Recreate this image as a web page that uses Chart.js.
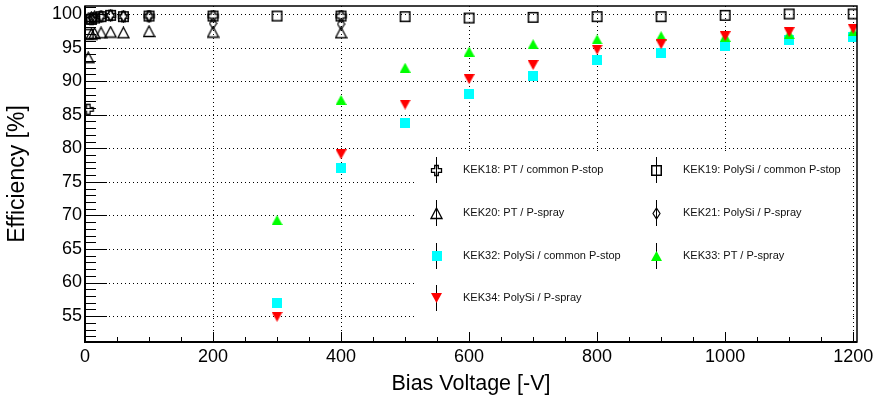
<!DOCTYPE html>
<html>
<head>
<meta charset="utf-8">
<script src="https://cdn.jsdelivr.net/npm/chart.js@4.4.1/dist/chart.umd.min.js"></script>
<style>
    html, body { margin: 0; padding: 0; background: #fff; }
    #wrap { position: relative; width: 879px; height: 405px; }
    .lg { position: absolute; font: 11px "Liberation Sans", Arial, sans-serif; color: #111; white-space: nowrap; line-height: 12px; }
</style>
</head>
<body>
<div id="wrap">
    <canvas id="chart" width="879" height="405"></canvas>
</div>
<script>
// values
const kek18Volt = [5, 10, 15, 25, 40, 60, 100, 200, 400];
const kek18Eff  = [85.8, 99.2, 99.4, 99.6, 99.8, 99.6, 99.7, 99.7, 99.7];

const kek19Volt = [5, 10, 15, 25, 40, 60, 100, 200, 300, 400, 500, 600, 700, 800, 900, 1000, 1100, 1200];
const kek19Eff  = [97.0, 99.2, 99.4, 99.6, 99.8, 99.6, 99.7, 99.7, 99.7, 99.7, 99.6, 99.4, 99.5, 99.6, 99.6, 99.8, 100.0, 100.0];

const kek20Volt = [5, 10, 15, 25, 40, 60, 100, 200, 400];
const kek20Eff  = [93.5, 97.0, 97.1, 97.2, 97.3, 97.2, 97.4, 97.3, 97.2];

const kek21Volt = [5, 10, 15, 25, 40, 60, 100, 200, 400];
const kek21Eff  = [99.3, 99.5, 99.6, 99.7, 99.8, 99.7, 99.7, 98.6, 98.5];

const kek32Volt = [300, 400, 500, 600, 700, 800, 900, 1000, 1100, 1200];
const kek32Eff  = [56.9, 77.0, 83.8, 88.1, 90.7, 93.2, 94.2, 95.3, 96.1, 96.5];

const kek33Volt = [300, 400, 500, 600, 700, 800, 900, 1000, 1100, 1200];
const kek33Eff  = [69.3, 87.2, 92.0, 94.4, 95.5, 96.2, 96.7, 96.6, 97.0, 97.4];

const kek34Volt = [300, 400, 500, 600, 700, 800, 900, 1000, 1100, 1200];
const kek34Eff  = [54.9, 79.1, 86.5, 90.3, 92.4, 94.7, 95.5, 96.7, 97.3, 97.8];

const xTicks = [0, 200, 400, 600, 800, 1000, 1200];
const xMinor = [50, 100, 150, 250, 300, 350, 450, 500, 550, 650, 700, 750, 850, 900, 950, 1050, 1100, 1150];
const yTicks = [55, 60, 65, 70, 75, 80, 85, 90, 95, 100];

const legendRows = [
    ['KEK18: PT / common P-stop', 'KEK19: PolySi / common P-stop'],
    ['KEK20: PT / P-spray', 'KEK21: PolySi / P-spray'],
    ['KEK32: PolySi / common P-stop', 'KEK33: PT / P-spray'],
    ['KEK34: PolySi / P-spray', null]
];

function pts(xs, ys) {
    return xs.map((x, i) => ({ x: x, y: ys[i] }));
}

// ROOT-like markers as small canvases
function makeMarker(w, h, draw) {
    const c = document.createElement('canvas');
    c.width = w; c.height = h;
    const g = c.getContext('2d');
    draw(g, w, h);
    return c;
}

const mOpenCross = makeMarker(13, 13, (g) => {
    const a = 5, t = 1.8, cx = 6.5, cy = 6.5;
    const p = [[-t,-a],[t,-a],[t,-t],[a,-t],[a,t],[t,t],[t,a],[-t,a],[-t,t],[-a,t],[-a,-t],[-t,-t]];
    g.beginPath();
    p.forEach((q, i) => i ? g.lineTo(cx + q[0], cy + q[1]) : g.moveTo(cx + q[0], cy + q[1]));
    g.closePath();
    g.lineWidth = 1.3; g.strokeStyle = '#000'; g.stroke();
});
const mOpenSquare = makeMarker(13, 13, (g) => {
    g.lineWidth = 1.5; g.strokeStyle = '#000';
    g.strokeRect(1.75, 1.75, 9.5, 9.5);
});
const mOpenTri = makeMarker(13, 13, (g) => {
    g.beginPath();
    g.moveTo(6.5, 1); g.lineTo(12, 11.5); g.lineTo(1, 11.5); g.closePath();
    g.lineWidth = 1.3; g.strokeStyle = '#000'; g.stroke();
});
const mOpenDiamond = makeMarker(9, 13, (g) => {
    g.beginPath();
    g.moveTo(4.5, 1); g.lineTo(8, 6.5); g.lineTo(4.5, 12); g.lineTo(1, 6.5); g.closePath();
    g.lineWidth = 1.2; g.strokeStyle = '#000'; g.stroke();
});
const mCyanSquare = makeMarker(10, 10, (g) => {
    g.fillStyle = '#00ffff'; g.fillRect(0, 0, 10, 10);
});
const mGreenTri = makeMarker(11, 10, (g) => {
    g.beginPath(); g.moveTo(5.5, 0); g.lineTo(11, 10); g.lineTo(0, 10); g.closePath();
    g.fillStyle = '#00ff00'; g.fill();
});
const mRedTriDown = makeMarker(11, 10, (g) => {
    g.beginPath(); g.moveTo(0, 0); g.lineTo(11, 0); g.lineTo(5.5, 10); g.closePath();
    g.fillStyle = '#ff0000'; g.fill();
});

const legendMarks = [
    [mOpenCross, mOpenSquare],
    [mOpenTri, mOpenDiamond],
    [mCyanSquare, mGreenTri],
    [mRedTriDown, null]
];

const legendBox = { x: 415, y: 151, w: 436, h: 180 };
const rowY = [170, 213, 256, 298];
const colMarkX = [436, 656];
const colTextX = [463, 683];

const rootFrame = {
    id: 'rootFrame',
    beforeDatasetsDraw(chart) {
        const { ctx, chartArea: a, scales: { x, y } } = chart;
        ctx.save();
        ctx.strokeStyle = '#000';
        ctx.lineWidth = 1;
        ctx.setLineDash([1, 3]);
        xTicks.forEach(v => {
            if (v === 0) return;
            const px = Math.round(x.getPixelForValue(v)) + 0.5;
            ctx.beginPath(); ctx.moveTo(px, a.top); ctx.lineTo(px, a.bottom); ctx.stroke();
        });
        yTicks.forEach(v => {
            const py = Math.round(y.getPixelForValue(v)) + 0.5;
            ctx.beginPath(); ctx.moveTo(a.left, py); ctx.lineTo(a.right, py); ctx.stroke();
        });
        ctx.restore();
    },
    afterDatasetsDraw(chart) {
        const { ctx, chartArea: a, scales: { x, y } } = chart;
        ctx.save();
        ctx.strokeStyle = '#000';
        ctx.setLineDash([]);

        // ticks inside the frame
        ctx.lineWidth = 1;
        for (let v = 52; v <= 101; v++) {
            const py = Math.round(y.getPixelForValue(v)) + 0.5;
            const len = (v % 5 === 0) ? 22 : 11;
            ctx.beginPath(); ctx.moveTo(a.left, py); ctx.lineTo(a.left + len, py); ctx.stroke();
        }
        xTicks.forEach(v => {
            const px = Math.round(x.getPixelForValue(v)) + 0.5;
            ctx.beginPath(); ctx.moveTo(px, a.bottom); ctx.lineTo(px, a.bottom - 10); ctx.stroke();
        });
        xMinor.forEach(v => {
            const px = Math.round(x.getPixelForValue(v)) + 0.5;
            ctx.beginPath(); ctx.moveTo(px, a.bottom); ctx.lineTo(px, a.bottom - 5); ctx.stroke();
        });

        // legend box
        ctx.fillStyle = '#fff';
        ctx.fillRect(legendBox.x, legendBox.y, legendBox.w, legendBox.h);
        ctx.lineWidth = 1;
        legendMarks.forEach((row, r) => {
            row.forEach((m, c) => {
                if (!m) return;
                const mx = colMarkX[c] + 0.5, my = rowY[r];
                ctx.beginPath(); ctx.moveTo(mx, my - 13); ctx.lineTo(mx, my + 13); ctx.stroke();
                ctx.drawImage(m, Math.round(mx - m.width / 2), Math.round(my - m.height / 2));
            });
        });

        // frame
        ctx.lineWidth = 1.5;
        ctx.strokeRect(a.left, a.top, a.right - a.left, a.bottom - a.top);
        ctx.lineWidth = 2;
        ctx.beginPath();
        ctx.moveTo(a.left, a.top); ctx.lineTo(a.left, a.bottom); ctx.lineTo(a.right, a.bottom);
        ctx.stroke();
        ctx.restore();
    }
};

const tickFont = { family: '"Liberation Sans", Arial, sans-serif', size: 18 };
const xTitleFont = { family: '"Liberation Sans", Arial, sans-serif', size: 21.5 };
const yTitleFont = { family: '"Liberation Sans", Arial, sans-serif', size: 23 };

function ds(label, data, marker) {
    return {
        label: label,
        data: data,
        pointStyle: marker,
        pointRadius: 5,
        pointHoverRadius: 5,
        showLine: false
    };
}

new Chart(document.getElementById('chart'), {
    type: 'scatter',
    data: {
        datasets: [
            ds('KEK34', pts(kek34Volt, kek34Eff), mRedTriDown),
            ds('KEK33', pts(kek33Volt, kek33Eff), mGreenTri),
            ds('KEK32', pts(kek32Volt, kek32Eff), mCyanSquare),
            ds('KEK18', pts(kek18Volt, kek18Eff), mOpenCross),
            ds('KEK21', pts(kek21Volt, kek21Eff), mOpenDiamond),
            ds('KEK20', pts(kek20Volt, kek20Eff), mOpenTri),
            ds('KEK19', pts(kek19Volt, kek19Eff), mOpenSquare)
        ]
    },
    options: {
        responsive: false,
        animation: false,
        layout: { padding: { top: 5, right: 22, left: 0, bottom: 0 } },
        plugins: {
            legend: { display: false },
            tooltip: { enabled: false }
        },
        scales: {
            x: {
                type: 'linear',
                min: 0,
                max: 1206,
                afterBuildTicks: s => { s.ticks = xTicks.map(v => ({ value: v })); },
                afterFit: s => { s.height = 63; s.paddingLeft = 0; s.paddingRight = 0; },
                grid: { display: false, drawTicks: false },
                border: { display: false },
                ticks: { font: tickFont, color: '#000', padding: 4, maxRotation: 0, autoSkip: false, callback: v => String(v) },
                title: { display: true, text: 'Bias Voltage [-V]', font: xTitleFont, color: '#000', padding: { top: 0, bottom: 8 } }
            },
            y: {
                type: 'linear',
                min: 51.14,
                max: 101.19,
                afterBuildTicks: s => { s.ticks = yTicks.map(v => ({ value: v })); },
                afterFit: s => { s.width = 85; s.paddingTop = 0; s.paddingBottom = 0; },
                grid: { display: false, drawTicks: false },
                border: { display: false },
                ticks: { font: tickFont, color: '#000', padding: 3, autoSkip: false, callback: v => String(v) },
                title: { display: true, text: 'Efficiency [%]', font: yTitleFont, color: '#000', padding: { top: 4, bottom: 0 } }
            }
        }
    },
    plugins: [rootFrame]
});

// legend text as real text
const wrap = document.getElementById('wrap');
legendRows.forEach((row, r) => {
    row.forEach((txt, c) => {
        if (!txt) return;
        const el = document.createElement('div');
        el.className = 'lg';
        el.textContent = txt;
        el.style.left = colTextX[c] + 'px';
        el.style.top = (rowY[r] - 7) + 'px';
        wrap.appendChild(el);
    });
});
</script>
</body>
</html>
